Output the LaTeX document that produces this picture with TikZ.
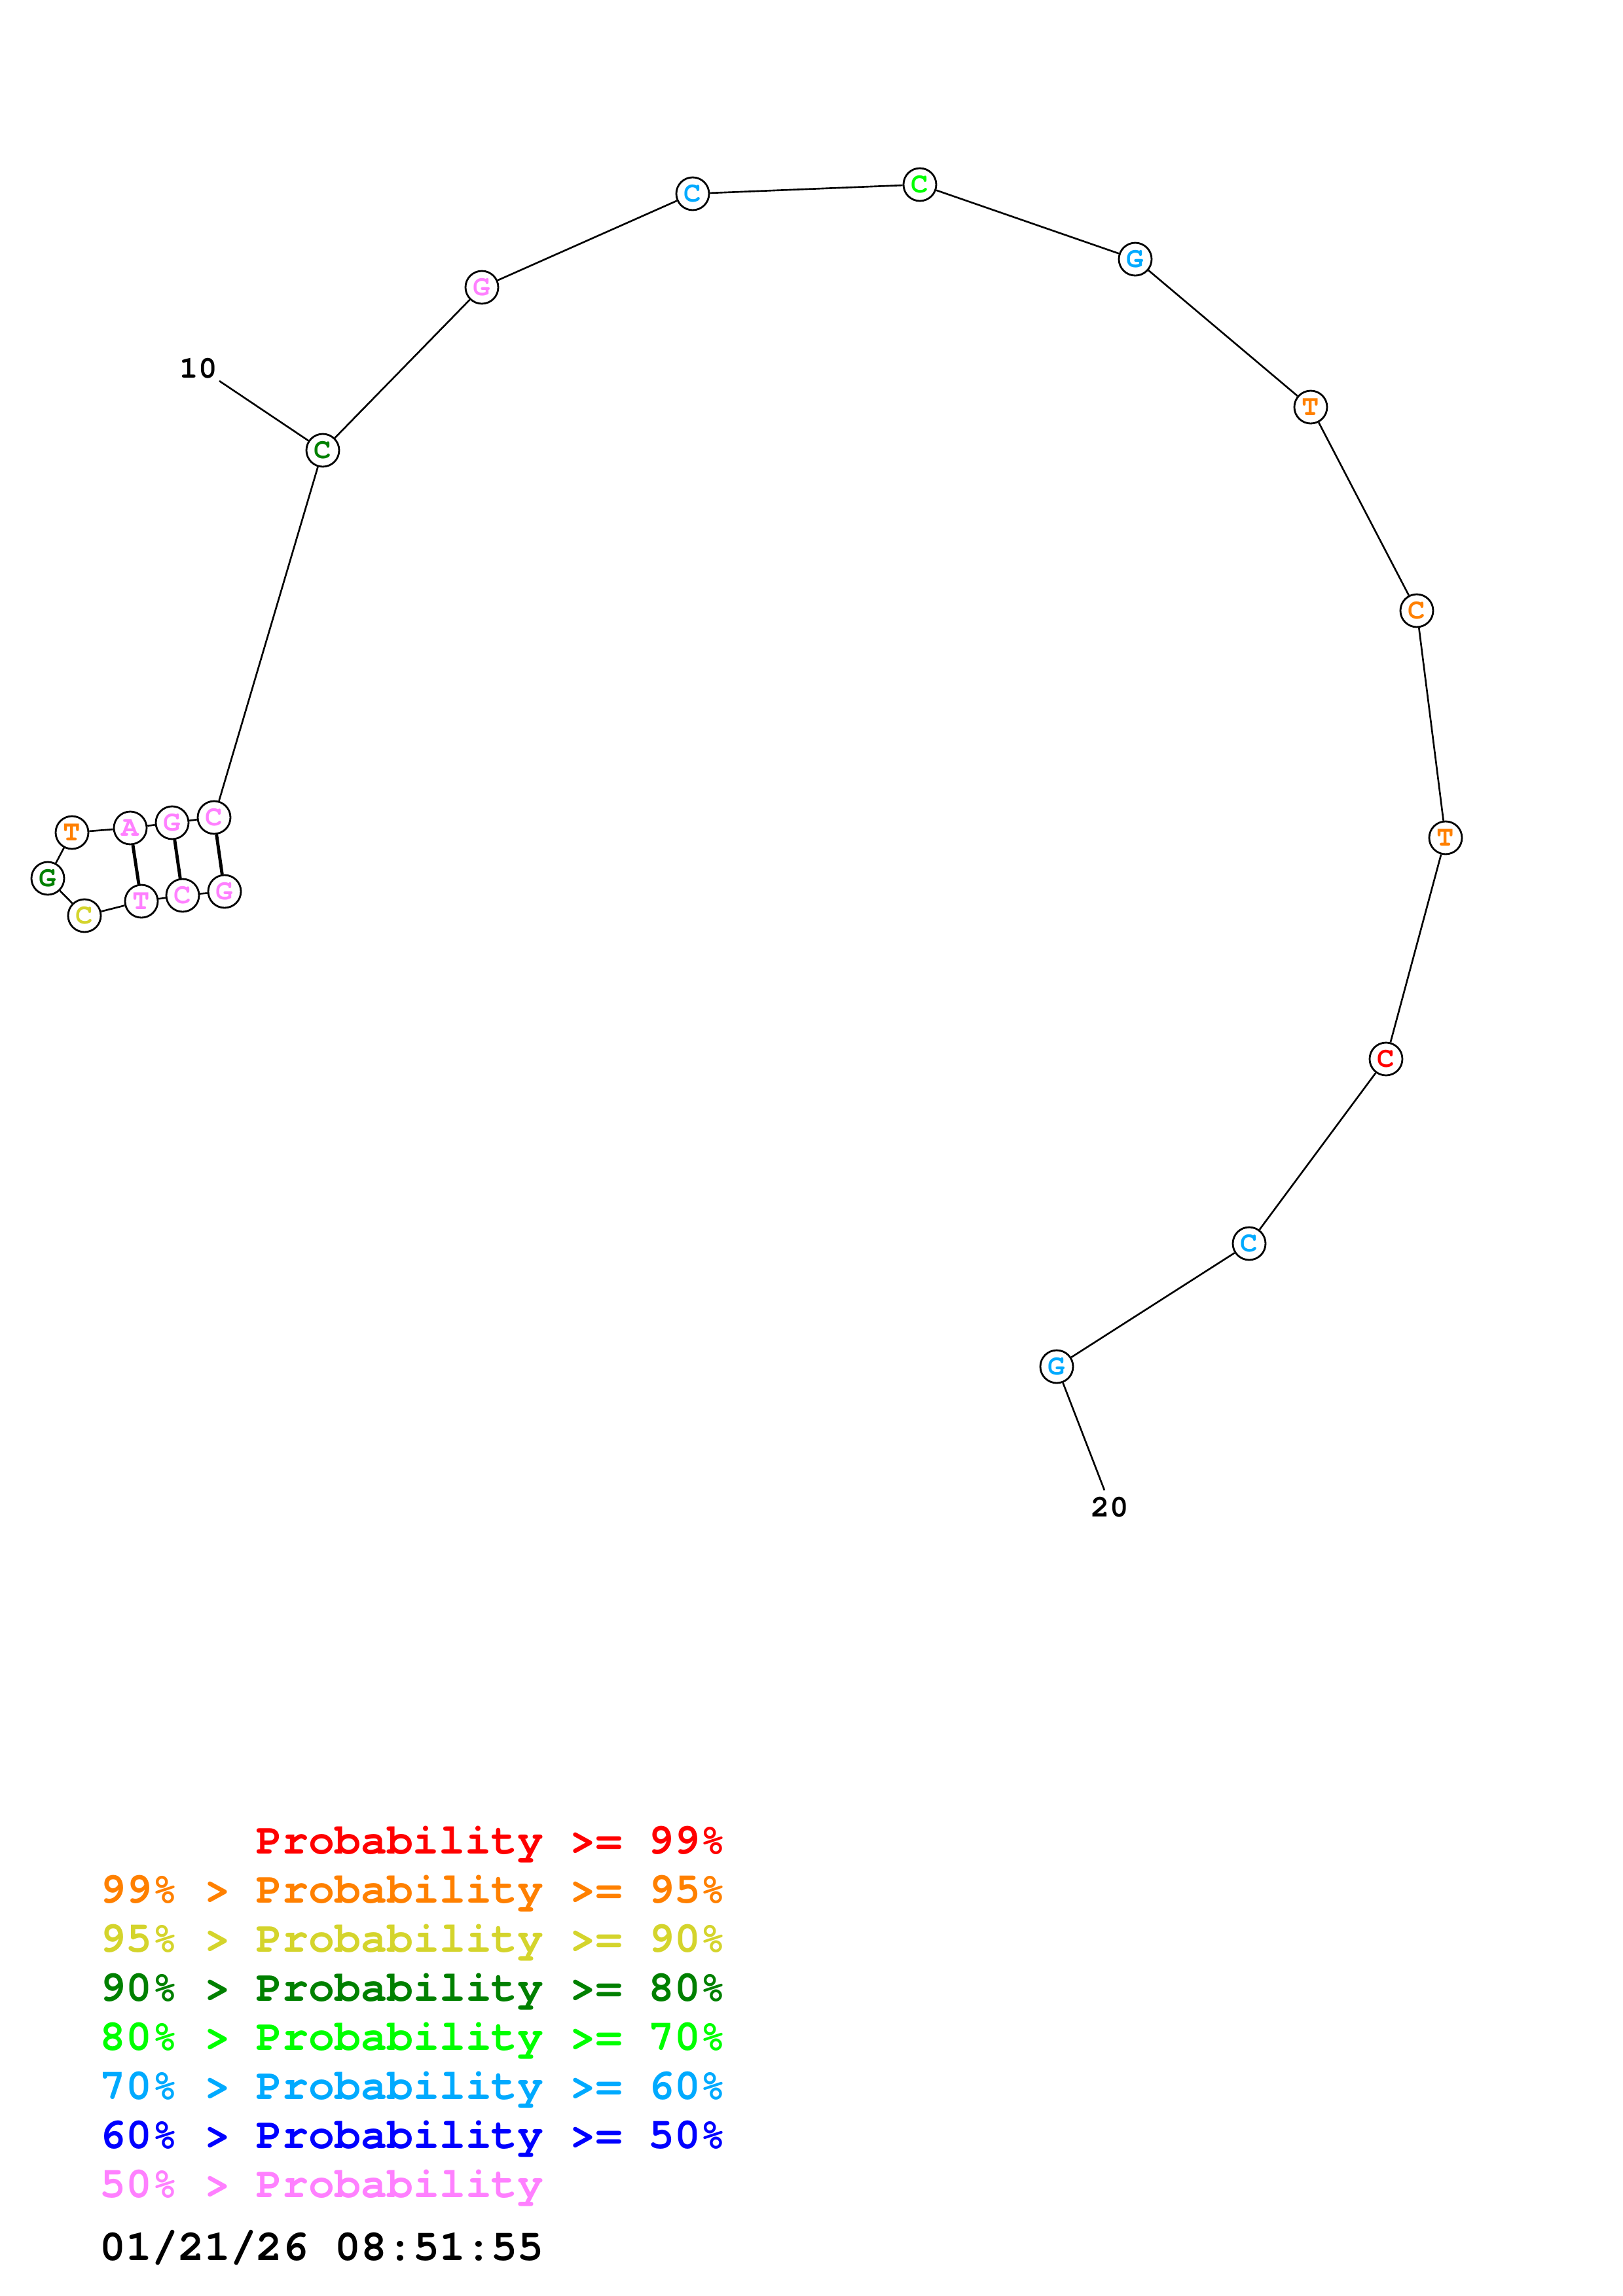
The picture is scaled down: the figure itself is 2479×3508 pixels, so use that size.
\documentclass[tikz,border=0pt]{standalone}
\usepackage{fontspec}
\setmonofont{TeX Gyre Cursor}
\usetikzlibrary{positioning}

\definecolor{prred}{RGB}{255,0,0}
\definecolor{prorange}{RGB}{255,128,0}
\definecolor{pryellow}{RGB}{212,212,44}
\definecolor{prdkgreen}{RGB}{0,128,0}
\definecolor{prgreen}{RGB}{0,255,0}
\definecolor{prsky}{RGB}{0,170,255}
\definecolor{prblue}{RGB}{0,0,255}
\definecolor{prpink}{RGB}{255,128,255}

\begin{document}
\begin{tikzpicture}[x=0.01cm, y=-0.01cm,
    base/.style={circle, draw, fill=white, line width=0.8pt, minimum size=0.5cm, inner sep=0pt,
                 font=\fontsize{12.5}{12.5}\selectfont\ttfamily\bfseries},
    bb/.style={line width=0.75pt},
    pair/.style={line width=1.4pt},
    numlab/.style={font=\fontsize{13.5}{13.5}\selectfont\ttfamily\bfseries},
    legend/.style={anchor=base west, inner sep=0pt, font=\fontsize{18.9}{18.9}\selectfont\ttfamily\bfseries}]
      \useasboundingbox (0,0) rectangle (2479,3508);

      % hairpin
      \node[base, text=prpink] (n1) at (343,1362) {G};
      \node[base, text=prpink] (n2) at (279,1368) {C};
      \node[base, text=prpink] (n3) at (216,1377) {T};
      \node[base, text=pryellow] (n4) at (129,1399) {C};
      \node[base, text=prdkgreen] (n5) at (73,1342) {G};
      \node[base, text=prorange] (n6) at (110,1272) {T};
      \node[base, text=prpink] (n7) at (199,1265) {A};
      \node[base, text=prpink] (n8) at (263,1257) {G};
      \node[base, text=prpink] (n9) at (327,1249) {C};

      % open strand
      \node[base, text=prdkgreen] (n10) at (493,688) {C};
      \node[base, text=prpink] (n11) at (736,439) {G};
      \node[base, text=prsky] (n12) at (1058,296) {C};
      \node[base, text=prgreen] (n13) at (1405,282) {C};
      \node[base, text=prsky] (n14) at (1734,396) {G};
      \node[base, text=prorange] (n15) at (2002,622) {T};
      \node[base, text=prorange] (n16) at (2164,933) {C};
      \node[base, text=prorange] (n17) at (2208,1280) {T};
      \node[base, text=prred] (n18) at (2117,1618) {C};
      \node[base, text=prsky] (n19) at (1908,1900) {C};
      \node[base, text=prsky] (n20) at (1614,2088) {G};

      % backbone
      \draw[bb] (n1) -- (n2) -- (n3) -- (n4) -- (n5) -- (n6) -- (n7) -- (n8) -- (n9) -- (n10)
                -- (n11) -- (n12) -- (n13) -- (n14) -- (n15) -- (n16) -- (n17) -- (n18) -- (n19) -- (n20);

      % base pairs
      \draw[pair] (n9) -- (n1);
      \draw[pair] (n8) -- (n2);
      \draw[pair] (n7) -- (n3);

      % numbering
      \coordinate (t10) at (335,582);
      \coordinate (t20) at (1687,2277);
      \node[numlab] (lab10) at (303,563) {10};
      \node[numlab] (lab20) at (1695,2303) {20};
      \draw[bb] (n10) -- (t10);
      \draw[bb] (n20) -- (t20);

      % legend
      \node[legend, text=prred] (leg1) at (391,2832) {Probability >= 99\%};
      \node[legend, text=prorange] (leg2) at (152,2907) {99\% > Probability >= 95\%};
      \node[legend, text=pryellow] (leg3) at (152,2982) {95\% > Probability >= 90\%};
      \node[legend, text=prdkgreen] (leg4) at (152,3057) {90\% > Probability >= 80\%};
      \node[legend, text=prgreen] (leg5) at (152,3132) {80\% > Probability >= 70\%};
      \node[legend, text=prsky] (leg6) at (152,3207) {70\% > Probability >= 60\%};
      \node[legend, text=prblue] (leg7) at (152,3282) {60\% > Probability >= 50\%};
      \node[legend, text=prpink] (leg8) at (152,3357) {50\% > Probability};
      \node[legend] (date) at (152,3453) {01/21/26 08:51:55};
    \end{tikzpicture}
\end{document}
